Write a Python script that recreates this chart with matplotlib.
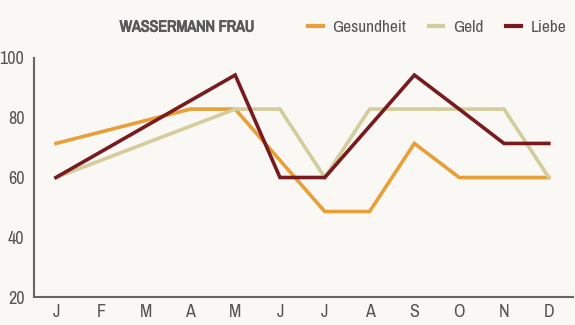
import numpy as np
import matplotlib.pyplot as plt
import matplotlib.patheffects as pe
from matplotlib import font_manager

months = ["J", "F", "M", "A", "M", "J", "J", "A", "S", "O", "N", "D"]
nan = np.nan
gesundheit = [71.4, nan, nan, 82.9, 82.9, nan, 48.6, 48.6, 71.4, 60, 60, 60]
geld = [60, nan, nan, nan, 82.9, 82.9, 60, 82.9, 82.9, 82.9, 82.9, 60]
liebe = [60, nan, nan, nan, 94.3, 60, 60, nan, 94.3, 82.9, 71.4, 71.4]

names = ["Gesundheit", "Geld", "Liebe"]
colors = ["#e99f38", "#d5cc9c", "#791a1f"]

fams = sorted(set(f.name for f in font_manager.fontManager.ttflist))
narrow = [f for f in fams if "Narrow" in f or "Condensed" in f]
font = narrow[0] if narrow else "DejaVu Sans"
plt.rcParams["font.family"] = [font, "DejaVu Sans"]
plt.rcParams["font.stretch"] = "condensed"

bg = "#f9f8f5"
fig = plt.figure(figsize=(5.75, 3.25), dpi=100, facecolor=bg)
ax = fig.add_axes([34/575, 1-297/325, 539/575, 239/325])
ax.set_facecolor(bg)

x = np.arange(len(months))
for vals, name, c in zip([gesundheit, geld, liebe], names, colors):
    v = np.array(vals, dtype=float)
    m = ~np.isnan(v)
    ax.plot(x[m], v[m], color=c, lw=2.6, label=name, solid_joinstyle="miter")

ax.set_xlim(-0.49, 11.54)
ax.set_ylim(20, 100)
ax.set_yticks([20, 40, 60, 80, 100])
ax.set_xticks(x)
ax.set_xticklabels(months)
ax.tick_params(length=0, labelsize=13, colors="#555555", pad=5)
ax.tick_params(axis="y", pad=7)
for s in ["top", "right"]:
    ax.spines[s].set_visible(False)
for s in ["left", "bottom"]:
    ax.spines[s].set_color("#666666")
    ax.spines[s].set_linewidth(1.5)

fig.text(187/575, 1-27/325, "WASSERMANN FRAU", ha="center", va="center",
         fontsize=11.5, fontweight="bold", color="#5a5a5a",
         path_effects=[pe.withStroke(linewidth=0.7, foreground="#5a5a5a")])
leg = fig.legend(loc="center right", bbox_to_anchor=(566/575, 1-27/325), ncol=3,
                 frameon=False, fontsize=12.5, handlelength=0.85, handletextpad=0.55,
                 columnspacing=1.3, borderpad=0, borderaxespad=0)
for t in leg.get_texts():
    t.set_color("#555555")
for l in leg.get_lines():
    l.set_linewidth(3)

fig.savefig("out.png", dpi=100, facecolor=bg)
